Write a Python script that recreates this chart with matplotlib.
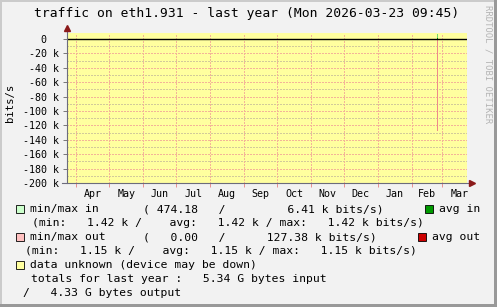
import matplotlib
matplotlib.use("Agg")
import matplotlib.pyplot as plt
import matplotlib.dates as mdates
from matplotlib.patches import Rectangle
from matplotlib.ticker import MultipleLocator, FixedFormatter, FixedLocator
from datetime import datetime, timedelta
import numpy as np

# time window (last year)
start = datetime(2025, 3, 23, 9, 45)
end = datetime(2026, 3, 23, 9, 45)

# the only sample with data (one day step)
sample_day = [datetime(2026, 2, 24)]
in_min = [474.18]
in_max = [6410.0]
in_avg = [1420.0]
out_min = [0.0]
out_max = [127380.0]
out_avg = [1150.0]

in_stats = [1420.0, 1420.0, 1420.0]   # min, avg, max
out_stats = [1150.0, 1150.0, 1150.0]
total_in = 5.34e9
total_out = 4.33e9

month_names = ["Apr", "May", "Jun", "Jul", "Aug", "Sep", "Oct", "Nov", "Dec", "Jan", "Feb", "Mar"]
y_major = [0, -20000, -40000, -60000, -80000, -100000, -120000, -140000, -160000, -180000, -200000]
y_labels = ["0  ", "-20 k", "-40 k", "-60 k", "-80 k", "-100 k", "-120 k", "-140 k", "-160 k", "-180 k", "-200 k"]

BACK = "#f2f2f2"
UNKNOWN = "#ffff9f"
MGRID = "#f3b498"
GRID = "#d2ca9a"
MONO = "DejaVu Sans Mono"

plt.rcParams["font.family"] = MONO

W, H = 497, 307
fig = plt.figure(figsize=(W / 100, H / 100), dpi=100, facecolor=BACK)


def fx(px):
    return px / W


def fy(py):
    return 1 - py / H


# 3d frame of the image
fig.patches.append(Rectangle((0, 0), 1, 1, transform=fig.transFigure, fc=BACK, ec="none", zorder=-5))
fig.patches.append(Rectangle((0, fy(2)), 1, 2 / H, transform=fig.transFigure, fc="#cbcbcb", ec="none", zorder=-4))
fig.patches.append(Rectangle((0, 0), 2 / W, 1, transform=fig.transFigure, fc="#cbcbcb", ec="none", zorder=-4))
fig.patches.append(Rectangle((fx(W - 3), 0), 3 / W, 1, transform=fig.transFigure, fc="#999999", ec="none", zorder=-3))
fig.patches.append(Rectangle((0, 0), 1, 3 / H, transform=fig.transFigure, fc="#999999", ec="none", zorder=-3))

ax = fig.add_axes([fx(67), fy(183), 400 / W, 150 / H])
ax.set_facecolor(UNKNOWN)
ax.set_xlim(start, end)
ax.set_ylim(-200000, 8333)

# grid
month_starts = [datetime(2025 + (m + 3) // 12, (m + 3) % 12 + 1, 1) for m in range(12)]
mid_months = []
for i, ms in enumerate(month_starts):
    nxt = month_starts[i + 1] if i + 1 < len(month_starts) else datetime(2026, 4, 1)
    mid_months.append(ms + (nxt - ms) / 2)

ax.xaxis.set_major_locator(FixedLocator(mdates.date2num(month_starts)))
ax.xaxis.set_major_formatter(FixedFormatter([""] * len(month_starts)))
ax.xaxis.set_minor_locator(FixedLocator(mdates.date2num(mid_months)))
ax.xaxis.set_minor_formatter(FixedFormatter(month_names))
ax.yaxis.set_major_locator(FixedLocator(y_major))
ax.yaxis.set_major_formatter(FixedFormatter(y_labels))
ax.yaxis.set_minor_locator(MultipleLocator(10000))

ax.grid(False)
dots = (0, (1.4, 1.4))
for yv in np.arange(-190000, 8000, 10000):
    if yv % 20000 != 0:
        ax.axhline(yv, color=GRID, lw=0.72, ls=dots, zorder=1, antialiased=False)
for yv in y_major[1:]:
    ax.axhline(yv, color=MGRID, lw=0.72, ls=dots, zorder=1.1, antialiased=False)
for ms in month_starts:
    ax.axvline(ms, color=MGRID, lw=0.72, ls=dots, zorder=1.1, antialiased=False)

# data (one-day wide bars)
bar_kw = dict(width=1.0, align="edge", linewidth=0, antialiased=False)
ax.bar(sample_day, [-(b - a) for a, b in zip(out_min, out_max)], bottom=[-v for v in out_min],
       color="#ee8a8a", zorder=3, **bar_kw)
ax.bar(sample_day, [-v for v in out_avg], bottom=0, color="#cc0000", zorder=4, **bar_kw)
ax.bar(sample_day, [b - a for a, b in zip(in_min, in_max)], bottom=in_min,
       color="#70d870", zorder=3, **bar_kw)
ax.bar(sample_day, in_avg, bottom=0, color="#009900", zorder=4, **bar_kw)

# zero rule
ax.axhline(0, color="black", lw=1.0, zorder=5)

# axes
for s in ax.spines.values():
    s.set_visible(False)
AXIS = "#6c6c7c"
ARROW = "#8b1a1a"
ax.plot([0, 0], [0, 1.025], transform=ax.transAxes, color=AXIS, lw=0.8, clip_on=False, zorder=6)
ax.plot([-0.012, 1.01], [0, 0], transform=ax.transAxes, color=AXIS, lw=0.8, clip_on=False, zorder=6)
ax.plot([0], [1.035], transform=ax.transAxes, marker="^", ms=4.5, color=ARROW, clip_on=False, zorder=7)
ax.plot([1.012], [0], transform=ax.transAxes, marker=">", ms=4.5, color=ARROW, clip_on=False, zorder=7)

ax.tick_params(axis="y", which="major", length=3, width=0.7, color="#777777", labelsize=7.2, pad=3)
ax.tick_params(axis="y", which="minor", length=0)
ax.tick_params(axis="x", which="major", length=3, width=0.7, color="#e89090", direction="out")
ax.tick_params(axis="x", which="minor", length=0, labelsize=7.2, pad=4)

# texts
fig.text(fx(247), fy(13), "traffic on eth1.931 - last year (Mon 2026-03-23 09:45)",
         ha="center", va="center", fontsize=9.4)
fig.text(fx(10), fy(103), "bits/s", rotation=90, ha="center", va="center", fontsize=7.6)
fig.text(fx(488), fy(5), "RRDTOOL / TOBI OETIKER", rotation=270, ha="center", va="top",
         fontsize=6.4, color="#b4b4b4")


def si(v):
    if v >= 1e9:
        return f"{v / 1e9:.2f} G"
    if v >= 1e3:
        return f"{v / 1e3:.2f} k"
    return f"{v:.2f}"


def swatch(px, py, color):
    fig.patches.append(Rectangle((fx(px), fy(py + 8)), 8 / W, 8 / H, transform=fig.transFigure,
                                 fc=color, ec="black", lw=0.6))


FS = 8.2
rows = [209, 223, 237, 251, 265, 279, 293]
swatch(15.5, rows[0] - 4, "#ccffcc")
fig.text(fx(30), fy(rows[0]), "min/max in", va="center", fontsize=FS)
fig.text(fx(143.3), fy(rows[0]), f"( {si(in_min[0]):>6}   / {si(in_max[0]):>14} bits/s)", va="center", fontsize=FS)
swatch(424.5, rows[0] - 4, "#009900")
fig.text(fx(439.3), fy(rows[0]), "avg in", va="center", fontsize=FS)
fig.text(fx(31.7), fy(rows[1]),
         f"(min: {si(in_stats[0]):>8} /    avg: {si(in_stats[1]):>8} / max: {si(in_stats[2]):>8} bits/s)",
         va="center", fontsize=FS)
swatch(15.5, rows[2] - 4, "#ffc0c0")
fig.text(fx(30), fy(rows[2]), "min/max out", va="center", fontsize=FS)
fig.text(fx(142.7), fy(rows[2]), f"( {si(out_min[0]):>6}   / {si(out_max[0]):>13} bits/s)", va="center", fontsize=FS)
swatch(417.5, rows[2] - 4, "#cc0000")
fig.text(fx(432.3), fy(rows[2]), "avg out", va="center", fontsize=FS)
fig.text(fx(25), fy(rows[3]),
         f"(min: {si(out_stats[0]):>8} /    avg: {si(out_stats[1]):>8} / max: {si(out_stats[2]):>8} bits/s)",
         va="center", fontsize=FS)
swatch(15.5, rows[4] - 4, UNKNOWN)
fig.text(fx(30), fy(rows[4]), "data unknown (device may be down)", va="center", fontsize=FS)
fig.text(fx(30.7), fy(rows[5]), f"totals for last year : {si(total_in):>8} bytes input", va="center", fontsize=FS)
fig.text(fx(23.3), fy(rows[6]), f"/ {si(total_out):>8} bytes output", va="center", fontsize=FS)

fig.savefig("out.png", dpi=100, facecolor=BACK)
